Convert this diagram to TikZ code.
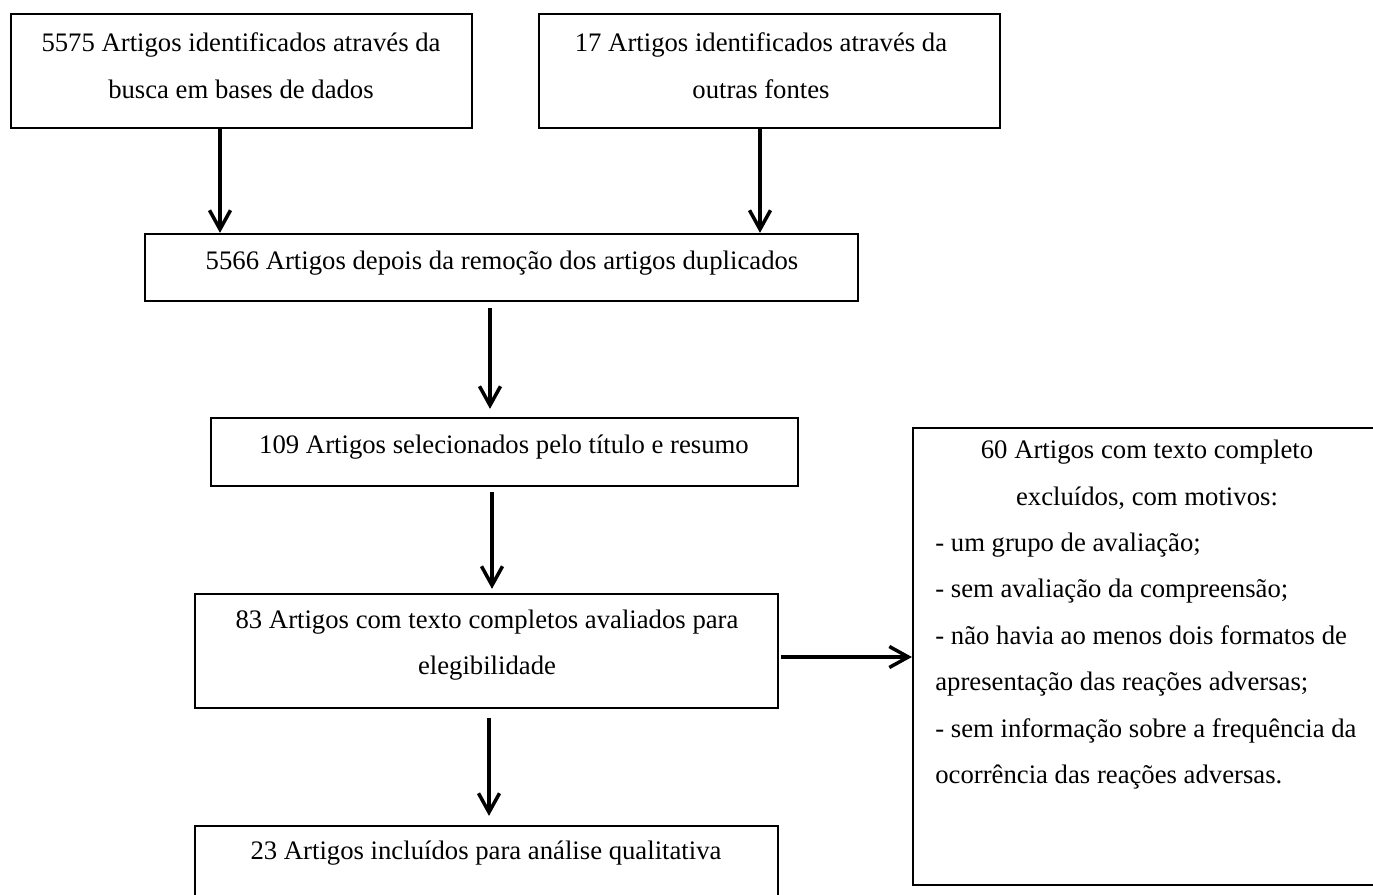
\documentclass[tikz,border=0pt]{standalone}
\usepackage{fontspec}
\setmainfont{Liberation Serif}
\usetikzlibrary{arrows.meta}
\begin{document}
\begin{tikzpicture}[x=0.02cm,y=-0.02cm,
  box/.style={draw, line width=0.045cm, inner sep=0pt, rectangle},
  txt/.style={font=\fontsize{15.2}{26.5}\selectfont, inner sep=0pt, align=center},
  arr/.style={line width=0.07cm, -{Straight Barb[length=0.38cm,width=0.42cm]}}]
\useasboundingbox (0,0) rectangle (1373,895);
\clip (0,0) rectangle (1373,895);
% boxes
\node[box, minimum width=9.22cm, minimum height=2.28cm] (b1) at (241.5,71) {};
\node[box, minimum width=9.22cm, minimum height=2.28cm] (b2) at (769.5,71) {};
\node[box, minimum width=14.26cm, minimum height=1.34cm] (b3) at (501.5,267.5) {};
\node[box, minimum width=11.74cm, minimum height=1.36cm] (b4) at (504.5,452) {};
\node[box, minimum width=11.66cm, minimum height=2.28cm] (b5) at (486.5,651) {};
\node[box, minimum width=11.66cm, minimum height=2.08cm] (b6) at (486.5,878) {};
\node[box, minimum width=9.74cm, minimum height=9.14cm] (b7) at (1156.5,656.5) {};
% texts
\node[txt] (t1) at (241,65.5) {5575 Artigos identificados através da\\busca em bases de dados};
\node[txt] (t2) at (761,65.5) {17 Artigos identificados através da\\outras fontes};
\node[txt] (t3) at (502,263) {5566 Artigos depois da remoção dos artigos duplicados};
\node[txt] (t4) at (504,447) {109 Artigos selecionados pelo título e resumo};
\node[txt] (t5) at (487,645) {83 Artigos com texto completos avaliados para\\elegibilidade};
\node[txt] (t6) at (486,853) {23 Artigos incluídos para análise qualitativa};
\node[txt] (t7a) at (1147,475) {60 Artigos com texto completo\\excluídos, com motivos:};
\node[txt, align=left, anchor=west] (t7b) at (935,661) {- um grupo de avaliação;\\- sem avaliação da compreensão;\\- não havia ao menos dois formatos de\\apresentação das reações adversas;\\- sem informação sobre a frequência da\\ocorrência das reações adversas.};
% arrow x positions
\coordinate (xa) at (220,0);
\coordinate (xb) at (760,0);
\coordinate (xc) at (490,0);
\coordinate (xd) at (492,0);
\coordinate (xe) at (489,0);
\coordinate (ya) at (0,657);
% arrows
\draw[arr] (b1.south -| xa) -- (b3.north -| xa);
\draw[arr] (b2.south -| xb) -- (b3.north -| xb);
\draw[arr, shorten <=0.12cm, shorten >=0.16cm] (b3.south -| xc) -- (b4.north -| xc);
\draw[arr, shorten <=0.1cm, shorten >=0.08cm] (b4.south -| xd) -- (b5.north -| xd);
\draw[arr, shorten <=0.18cm, shorten >=0.18cm] (b5.south -| xe) -- (b6.north -| xe);
\draw[arr, shorten <=0.04cm] (b5.east |- ya) -- (b7.west |- ya);
\end{tikzpicture}
\end{document}
